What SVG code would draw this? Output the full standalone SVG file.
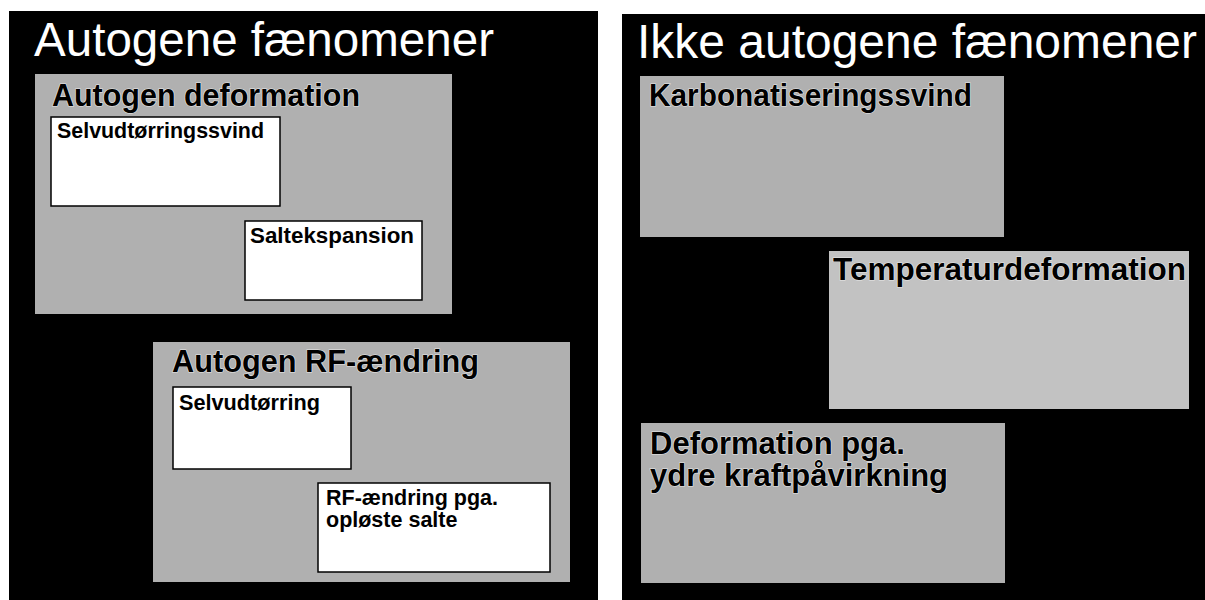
<svg xmlns="http://www.w3.org/2000/svg" width="1205" height="600" viewBox="0 0 1205 600">
<style>
.panel{fill:#000}
.title{font-family:"Liberation Sans",Arial,sans-serif;font-size:48px;fill:#fff}
.gbox{fill:#b0b0b0}
.gbox2{fill:#c2c2c2}
.glabel{font-family:"Liberation Sans",Arial,sans-serif;font-weight:bold;font-size:31px;fill:#000;stroke:#e8e8e8;stroke-width:1.2px;paint-order:stroke}
.wbox{fill:#fff;stroke:#000;stroke-width:1.5}
.wlabel{font-family:"Liberation Sans",Arial,sans-serif;font-weight:bold;font-size:21.5px;fill:#000}
</style>
<rect x="0" y="0" width="1205" height="600" fill="#fff"/>
<g id="panel-left">
<rect class="panel" x="9" y="11" width="589" height="589"/>
<text class="title" x="34" y="56" textLength="460" lengthAdjust="spacingAndGlyphs">Autogene fænomener</text>
</g>
<g id="panel-right">
<rect class="panel" x="622" y="14" width="583" height="586"/>
<text class="title" x="637" y="58" textLength="560" lengthAdjust="spacingAndGlyphs">Ikke autogene fænomener</text>
</g>
<g id="autogen-deformation">
<rect class="gbox" x="35" y="74" width="417" height="240"/>
<text class="glabel" x="52" y="106" textLength="308" lengthAdjust="spacingAndGlyphs">Autogen deformation</text>
</g>
<g id="selvudtorringssvind">
<rect class="wbox" x="51" y="117" width="229" height="89"/>
<text class="wlabel" x="57" y="138" textLength="207" lengthAdjust="spacingAndGlyphs">Selvudtørringssvind</text>
</g>
<g id="saltekspansion">
<rect class="wbox" x="245" y="221" width="177" height="79"/>
<text class="wlabel" x="250" y="243" textLength="164" lengthAdjust="spacingAndGlyphs">Saltekspansion</text>
</g>
<g id="autogen-rf">
<rect class="gbox" x="153" y="342" width="417" height="240"/>
<text class="glabel" x="172" y="372" textLength="307" lengthAdjust="spacingAndGlyphs">Autogen RF-ændring</text>
</g>
<g id="selvudtorring">
<rect class="wbox" x="173" y="387" width="178" height="82"/>
<text class="wlabel" x="179" y="410" textLength="141" lengthAdjust="spacingAndGlyphs">Selvudtørring</text>
</g>
<g id="rf-salte">
<rect class="wbox" x="318" y="483" width="232" height="89"/>
<text class="wlabel" x="326" y="505"><tspan x="326" y="505">RF-ændring pga.</tspan><tspan x="326" y="527">opløste salte</tspan></text>
</g>
<g id="karbonatisering">
<rect class="gbox" x="640" y="76" width="364" height="161"/>
<text class="glabel" x="649" y="106" textLength="323" lengthAdjust="spacingAndGlyphs">Karbonatiseringssvind</text>
</g>
<g id="temperatur">
<rect class="gbox2" x="829" y="251" width="360" height="158"/>
<text class="glabel" x="833" y="280" textLength="353" lengthAdjust="spacingAndGlyphs">Temperaturdeformation</text>
</g>
<g id="ydre-kraft">
<rect class="gbox" x="641" y="423" width="364" height="160"/>
<text class="glabel" x="650" y="454"><tspan x="650" y="454">Deformation pga.</tspan><tspan x="650" y="486">ydre kraftpåvirkning</tspan></text>
</g>
<g id="connectors"/>
</svg>
